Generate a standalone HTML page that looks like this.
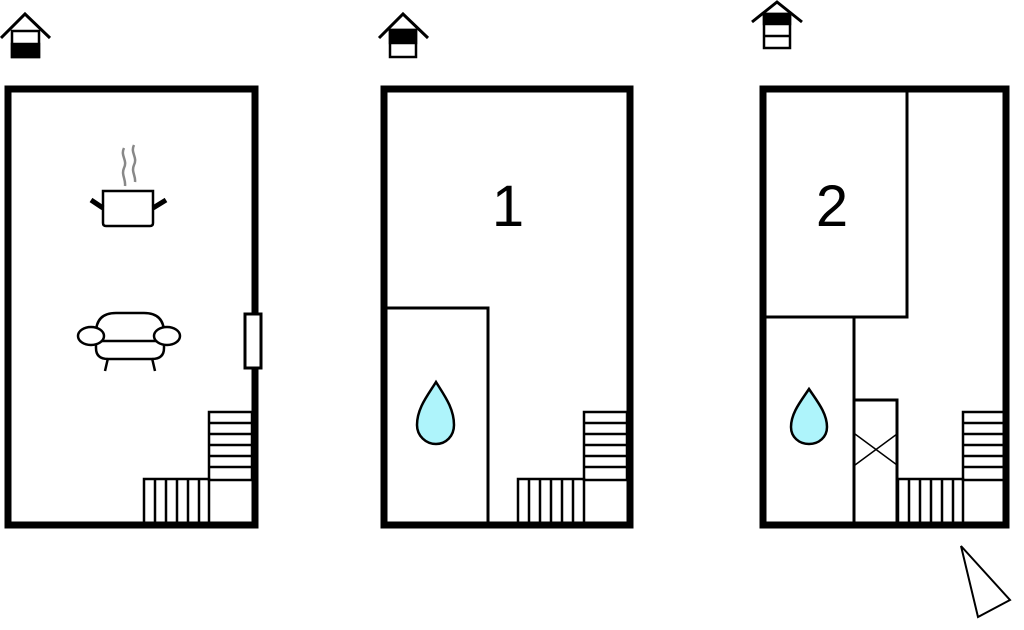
<!DOCTYPE html>
<html><head><style>html,body{margin:0;padding:0;background:#fff}svg{display:block}</style></head>
<body>
<svg width="1024" height="630" viewBox="0 0 1024 630" xmlns="http://www.w3.org/2000/svg" font-family="Liberation Sans, sans-serif">
<g fill="none" stroke="#000">
<!-- house icons -->
<polyline points="1,38 25,14 50,38" stroke-width="3"/>
<rect x="12" y="31" width="27" height="26" fill="#fff" stroke-width="2.5"/>
<rect x="12" y="44" width="27" height="13" fill="#000" stroke-width="2.5"/>

<polyline points="379,38 403,14 428,38" stroke-width="3"/>
<rect x="390" y="30" width="26" height="27" fill="#fff" stroke-width="2.5"/>
<rect x="390" y="30" width="26" height="13" fill="#000" stroke-width="2.5"/>

<polyline points="752,22 777,2 802,22" stroke-width="3"/>
<rect x="764" y="14" width="26" height="34" fill="#fff" stroke-width="2.5"/>
<rect x="764" y="14" width="26" height="10" fill="#000" stroke-width="2.5"/>
<line x1="764" y1="36" x2="790" y2="36" stroke-width="2.5"/>

<!-- plan 1 -->
<rect x="8" y="89" width="247" height="436" stroke-width="7"/>
<rect x="245" y="314" width="16" height="54" fill="#fff" stroke-width="3"/>
<path d="M124,148 c-4,8 4,12 0,20 c-3,7 2,11 1,18 M134,145 c-4,8 4,12 0,20 c-3,7 2,11 1,17" stroke="#888" stroke-width="2.5"/>
<path d="M103,191 H153 V223 q0,3 -3,3 H106 q-3,0 -3,-3 Z" stroke-width="2.5"/>
<line x1="91" y1="200" x2="103" y2="208" stroke-width="5"/>
<line x1="166" y1="200" x2="153" y2="208" stroke-width="5"/>
<path d="M96,333 q0,-20 20,-20 h28 q20,0 20,20 v15 q0,11 -12,11 h-44 q-12,0 -12,-11 Z" fill="#fff" stroke-width="2.5"/>
<line x1="100" y1="341" x2="158" y2="341" stroke-width="2.5"/>
<ellipse cx="91" cy="336" rx="13" ry="9" fill="#fff" stroke-width="2.5"/>
<ellipse cx="167" cy="336" rx="13" ry="9" fill="#fff" stroke-width="2.5"/>
<line x1="108" y1="358" x2="105" y2="371" stroke-width="2.5"/>
<line x1="152" y1="358" x2="155" y2="371" stroke-width="2.5"/>
<g stroke-width="2.5">
<rect x="209" y="412" width="43" height="68"/>
<path d="M209,423H252M209,434H252M209,445H252M209,456H252M209,467H252"/>
<rect x="144" y="479" width="65" height="44"/>
<path d="M155,479V523M166,479V523M177,479V523M188,479V523M199,479V523"/>
</g>

<!-- plan 2 -->
<rect x="384" y="89" width="246" height="436" stroke-width="7"/>
<polyline points="384,308 488,308 488,525" stroke-width="3"/>
<path d="M436,382 C428,395 417,408 417,425 C417,436 426,444 436,444 C446,444 454,436 454,425 C454,408 444,395 436,382 Z" fill="#aef4fb" stroke-width="2.5"/>
<g stroke-width="2.5">
<rect x="584" y="412" width="43" height="68"/>
<path d="M584,423H627M584,434H627M584,445H627M584,456H627M584,467H627"/>
<rect x="518" y="479" width="66" height="44"/>
<path d="M529,479V523M540,479V523M551,479V523M562,479V523M573,479V523"/>
</g>

<!-- plan 3 -->
<rect x="763" y="89" width="243" height="436" stroke-width="7"/>
<polyline points="907,89 907,317 763,317" stroke-width="3"/>
<line x1="854" y1="317" x2="854" y2="525" stroke-width="3"/>
<rect x="854" y="400" width="43" height="125" stroke-width="3"/>
<path d="M855,395 L897,364 M855,364 L897,395" transform="translate(0,70)" stroke-width="1.5"/>
<path d="M809,389 C801,401 791,413 791,427 C791,437 799,444 809,444 C819,444 827,437 827,427 C827,413 817,401 809,389 Z" fill="#aef4fb" stroke-width="2.5"/>
<g stroke-width="2.5">
<rect x="963" y="412" width="42" height="68"/>
<path d="M963,423H1005M963,434H1005M963,445H1005M963,456H1005M963,467H1005"/>
<rect x="898" y="479" width="65" height="44"/>
<path d="M909,479V523M920,479V523M931,479V523M942,479V523M953,479V523"/>
</g>
<polygon points="961,546 1010,600 978,617" fill="#fff" stroke-width="2"/>
</g>
<text x="508" y="226" font-size="58" text-anchor="middle" fill="#000">1</text>
<text x="832" y="226" font-size="58" text-anchor="middle" fill="#000">2</text>
</svg>
</body></html>
